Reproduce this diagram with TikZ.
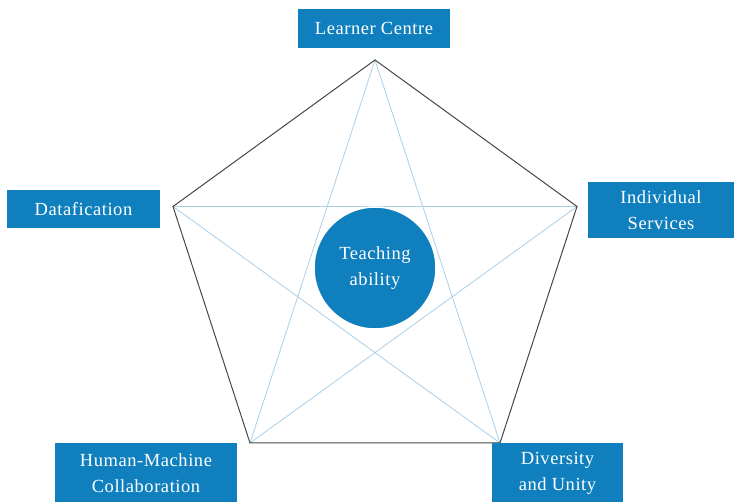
\documentclass[tikz,border=0pt]{standalone}
\usepackage{fontspec}
\setmainfont{Liberation Serif}[LetterSpace=3]
\definecolor{boxblue}{RGB}{16,127,190}
\definecolor{starline}{RGB}{170,208,232}
\definecolor{edgegray}{RGB}{70,70,70}
\begin{document}
\begin{tikzpicture}[x=1pt,y=-1pt,
  label box/.style={fill=boxblue, text=white, inner sep=0pt, align=center,
    font=\fontsize{18.5}{26}\selectfont},
  hub/.style={circle, fill=boxblue, draw=white, line width=1.5pt, text=white,
    minimum size=122pt, inner sep=0pt, align=center, font=\fontsize{18.5}{26}\selectfont},
  star edge/.style={draw=starline, line width=0.8pt},
  rim edge/.style={draw=edgegray, line width=1pt, line join=miter}]
\useasboundingbox (0,0) rectangle (734,502);

% pentagon corners
\coordinate (vT) at (375,60);
\coordinate (vR) at (577,206.5);
\coordinate (vBR) at (500,443);
\coordinate (vBL) at (250,443);
\coordinate (vL) at (173,206.5);

% inner star
\draw[star edge] (vT) -- (vBR) -- (vL) -- (vR) -- (vBL) -- cycle;

% outer pentagon
\draw[rim edge] (vT) -- (vR) -- (vBR) -- (vBL) -- (vL) -- cycle;

% centre
\node[hub] (hub) at (375,268) {Teaching\\ability};

% labels at the corners
\node[label box, minimum width=152pt, minimum height=39pt] (learner) at (374,28.5) {Learner Centre};
\node[label box, minimum width=146pt, minimum height=56pt] (indiv) at (661,210) {Individual\\Services};
\node[label box, minimum width=153pt, minimum height=38pt] (data) at (83.5,209) {Datafication};
\node[label box, minimum width=182pt, minimum height=60pt] (human) at (146,473) {Human-Machine\\Collaboration};
\node[label box, minimum width=131pt, minimum height=60pt] (divers) at (557.5,473) {Diversity\\and Unity};
\end{tikzpicture}
\end{document}
